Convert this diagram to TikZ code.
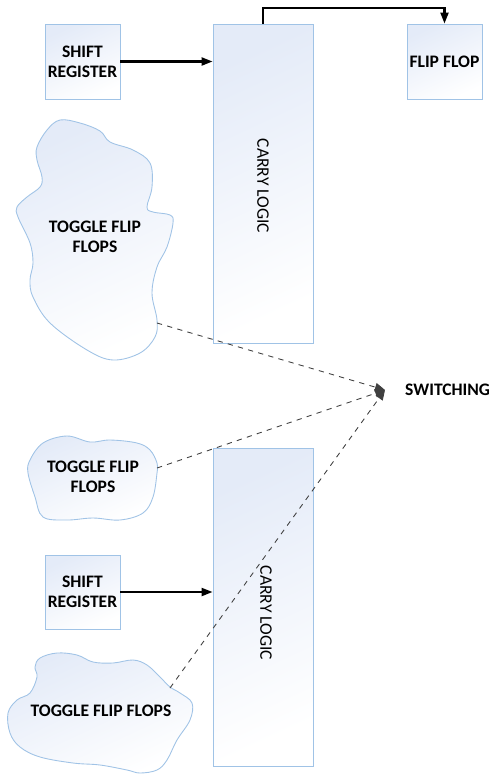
\documentclass[tikz,border=0pt]{standalone}
\usepackage{fontspec}
\setmainfont{Carlito}
\usetikzlibrary{arrows.meta,positioning}

\definecolor{edgeblue}{RGB}{160,195,230}
\definecolor{fillblue}{RGB}{228,235,248}

\begin{document}
\begin{tikzpicture}[x=0.02cm,y=-0.02cm,
  blk/.style={draw=edgeblue, line width=0.5pt, top color=fillblue, bottom color=white, shading angle=25, inner sep=0pt},
  blob/.style={draw=edgeblue, line width=0.5pt, top color=fillblue, bottom color=white, shading angle=25},
  lbl/.style={font=\fontsize{10}{11.5}\selectfont\bfseries, align=center},
  vlbl/.style={font=\fontsize{10}{11.5}\selectfont, rotate=-90},
  feed/.style={line width=1.2pt, -{Triangle[length=2.2mm,width=1.6mm]}},
  swln/.style={dashed, line width=0.5pt, draw=black!75, -{Triangle[length=2mm,width=1.7mm]}}]
\useasboundingbox (0,0) rectangle (488,774);

% upper half
\node[blk, minimum width=1.5cm, minimum height=1.5cm] (sr1) at (82.5,61.5) {};
\node[lbl] (sr1txt) at (sr1) {SHIFT\\REGISTER};
\node[blk, minimum width=2cm, minimum height=6.38cm] (cl1) at (263,183.5) {};
\node[vlbl] (cl1txt) at (263,186) {CARRY LOGIC};
\node[blk, minimum width=1.5cm, minimum height=1.5cm] (ff) at (444.5,61.5) {};
\node[lbl] (fftxt) at (ff) {FLIP FLOP};

\path[blob] plot[smooth cycle, tension=0.6] coordinates {
  (60,120) (80,123) (100,131) (110,142) (133,150) (150,163) (152,187)
  (147,207) (153,212) (170,215) (173,223) (167,247) (157,267) (152,293)
  (157,320) (155,337) (140,353) (113,360) (87,350) (50,323) (33,297)
  (30,280) (33,263) (30,243) (18,217) (17,207) (27,197) (40,187)
  (42,177) (37,160) (37,147) (47,130)};
\node[lbl] (tf1) at (95,237) {TOGGLE FLIP\\FLOPS};
\coordinate (tf1out) at (157,323);

\draw[feed] (sr1.east) -- (sr1.east -| cl1.west);
\draw[feed] (cl1.north) -- ++(0,-16) -| (ff.north);

% switching
\coordinate (swpt) at (385,390);
\node[lbl, right=0.28cm of swpt] (sw) {SWITCHING};

% lower half
\path[blob] plot[smooth cycle, tension=0.6] coordinates {
  (30,460) (43,443) (67,436) (90,442) (110,440) (137,443) (150,450)
  (157,463) (157,473) (153,497) (143,513) (120,520) (93,518) (67,520)
  (43,517) (35,497) (28,473)};
\node[lbl] (tf2) at (93,477) {TOGGLE FLIP\\FLOPS};
\coordinate (tf2out) at (157,468);

\node[blk, minimum width=1.5cm, minimum height=1.48cm] (sr2) at (82.5,592) {};
\node[lbl] (sr2txt) at (sr2) {SHIFT\\REGISTER};
\node[blk, minimum width=2cm, minimum height=6.36cm] (cl2) at (263,607) {};
\node[vlbl] (cl2txt) at (266,613) {CARRY LOGIC};

\path[blob] plot[smooth cycle, tension=0.6] coordinates {
  (40,658) (57,653) (77,655) (93,662) (113,663) (133,660) (147,665)
  (160,677) (170,687) (180,693) (192,703) (190,720) (177,740) (167,760)
  (157,770) (140,773) (127,770) (100,765) (73,763) (40,757) (20,747)
  (10,733) (8,713) (17,700) (30,693) (37,677) (35,667)};
\node[lbl] (tf3) at (101,711) {TOGGLE FLIP FLOPS};
\coordinate (tf3out) at (170,688);

\draw[feed] (sr2.east) -- (sr2.east -| cl2.west);

\draw[swln] (tf1out) -- (swpt);
\draw[swln] (tf2out) -- (swpt);
\draw[swln] (tf3out) -- (swpt);
\end{tikzpicture}
\end{document}
